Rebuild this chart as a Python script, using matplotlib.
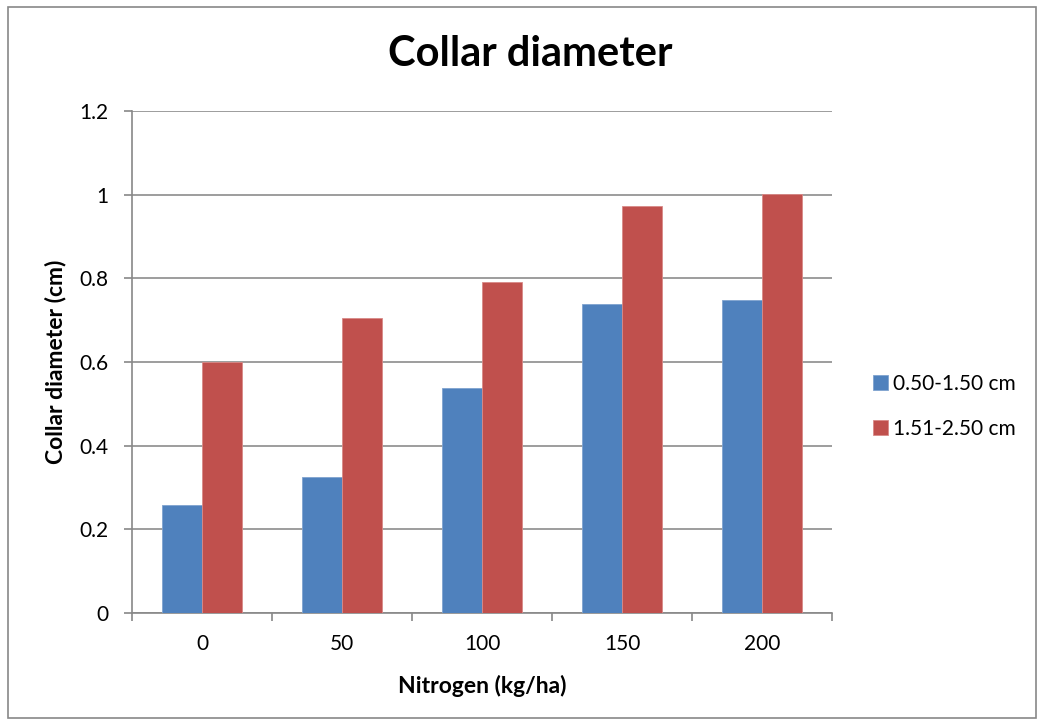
import matplotlib.pyplot as plt
from matplotlib.patches import Rectangle
import numpy as np

# nitrogen rates and mean collar diameter per size class
nitrogen = ['0', '50', '100', '150', '200']
small_class = [0.259, 0.325, 0.539, 0.739, 0.748]
large_class = [0.600, 0.705, 0.791, 0.972, 1.001]
series_names = ['0.50-1.50 cm', '1.51-2.50 cm']
yticks = [0, 0.2, 0.4, 0.6, 0.8, 1.0, 1.2]
ytick_labels = ['0', '0.2', '0.4', '0.6', '0.8', '1', '1.2']

plt.rcParams['font.family'] = ['Lato', 'DejaVu Sans']

fig = plt.figure(figsize=(10.44, 7.25), dpi=100)
ax = fig.add_axes([0.1264, 0.1545, 0.6706, 0.6924])

# outer chart border
fig.patches.append(Rectangle((8 / 1044, 7 / 725), 1028 / 1044, 711 / 725,
                             transform=fig.transFigure, fill=False,
                             edgecolor='#888888', linewidth=1.2))

x = np.arange(len(nitrogen))
w = 0.283
ax.bar(x - w / 2, small_class, w, color='#4F81BD', edgecolor='#7FA3CF',
       linewidth=0.6, label=series_names[0], zorder=3)
ax.bar(x + w / 2, large_class, w, color='#C0504D', edgecolor='#D98A88',
       linewidth=0.6, label=series_names[1], zorder=3)

ax.set_xlim(-0.5, len(nitrogen) - 0.5)
ax.set_ylim(0, 1.2)
ax.set_yticks(yticks)
ax.set_yticklabels(ytick_labels, fontsize=15)
ax.set_xticks(x)
ax.set_xticklabels(nitrogen, fontsize=15)
ax.set_xticks(np.arange(-0.5, len(nitrogen)), minor=True)
ax.tick_params(axis='x', which='major', length=0, pad=15)
ax.tick_params(axis='x', which='minor', length=6, color='#888888', width=1.2)
ax.tick_params(axis='y', length=6, color='#888888', width=1.2, pad=11)

ax.grid(axis='y', color='#8c8c8c', linewidth=1.2, zorder=0)
for side in ['top', 'right']:
    ax.spines[side].set_visible(False)
for side in ['left', 'bottom']:
    ax.spines[side].set_color('#888888')
    ax.spines[side].set_linewidth(1.2)

ax.set_xlabel('Nitrogen (kg/ha)', fontsize=16.5, fontweight='bold', labelpad=15)
ax.set_ylabel('Collar diameter (cm)', fontsize=16.5, fontweight='bold', labelpad=9)
fig.text(0.508, 0.9255, 'Collar diameter', ha='center', va='center',
         fontsize=30, fontweight='bold')

ax.legend(loc='center left', bbox_to_anchor=(1.0586, 0.412), frameon=False,
          fontsize=15, handlelength=0.72, handleheight=0.72, handletextpad=0.25,
          labelspacing=1.2, borderpad=0, borderaxespad=0)

fig.savefig('out.png', dpi=100)
